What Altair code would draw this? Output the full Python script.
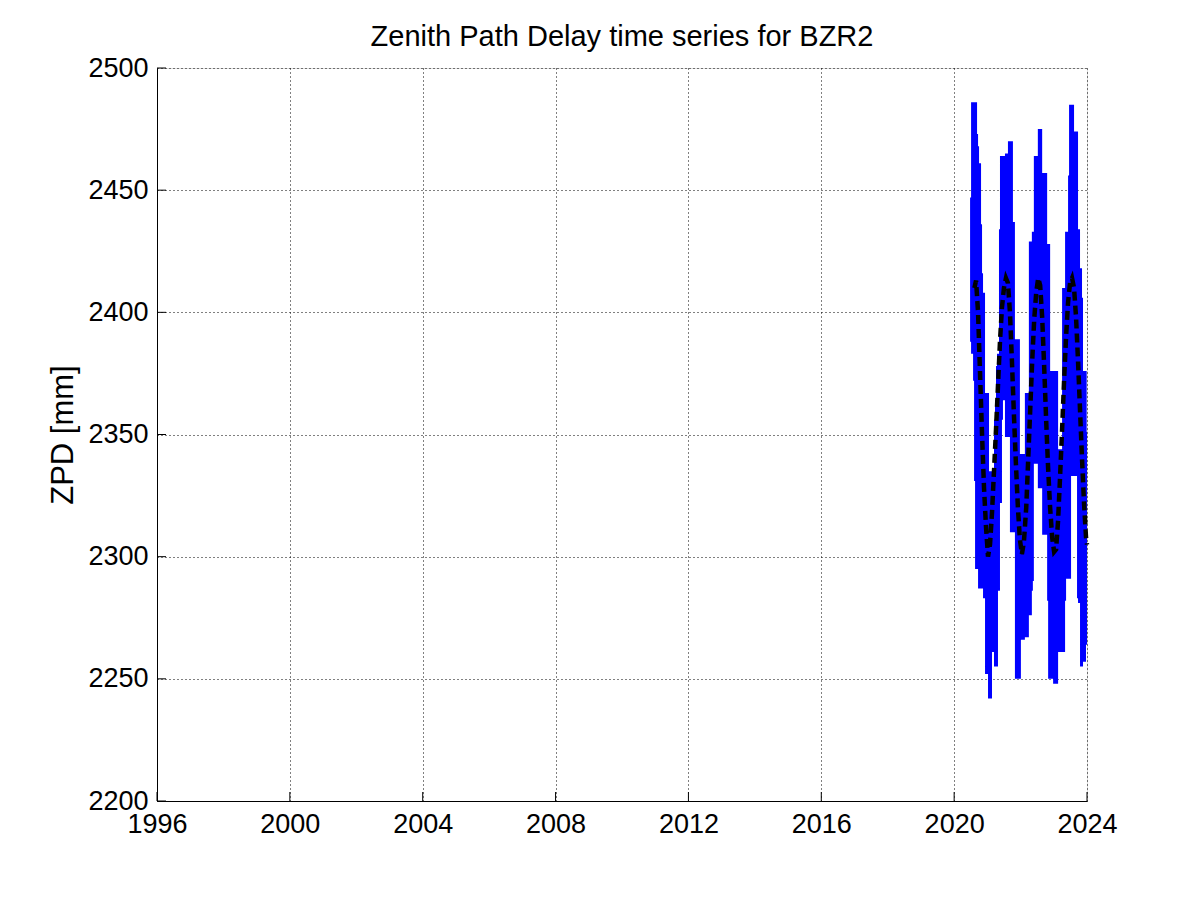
import altair as alt
import pandas as pd

# ---- Blue: daily ZPD spread (upper / lower envelope) ----
env_year = [2020.48, 2020.51, 2020.57, 2020.60, 2020.63, 2020.69, 2020.72, 2020.75, 2020.81, 2020.84,
            2020.87, 2020.93, 2021.02, 2021.05, 2021.14, 2021.20, 2021.23, 2021.26, 2021.29, 2021.32,
            2021.35, 2021.38, 2021.44, 2021.47, 2021.53, 2021.62, 2021.68, 2021.77, 2021.83, 2021.98,
            2022.01, 2022.13, 2022.25, 2022.34, 2022.37, 2022.40, 2022.52, 2022.65, 2022.80, 2022.83,
            2022.89, 2022.98, 2023.13, 2023.25, 2023.34, 2023.37, 2023.43, 2023.46, 2023.52, 2023.61,
            2023.70, 2023.73, 2023.79, 2023.85, 2023.88, 2023.97, 2023.99, 2024.00]
env_top = [2447, 2486, 2486, 2486, 2486, 2473, 2468, 2461, 2436, 2416,
           2408, 2367, 2367, 2335, 2335, 2356, 2364, 2378, 2383, 2383,
           2434, 2464, 2464, 2464, 2465, 2470, 2470, 2437, 2389, 2342,
           2342, 2367, 2429, 2433, 2433, 2464, 2475, 2457, 2428, 2428,
           2376, 2376, 2344, 2410, 2433, 2433, 2456, 2485, 2485, 2474,
           2474, 2434, 2418, 2406, 2376, 2376, 2351, 2351]
env_bot = [2388, 2383, 2372, 2331, 2295, 2295, 2287, 2287, 2287, 2287,
           2283, 2252, 2242, 2242, 2261, 2255, 2255, 2255, 2255, 2286,
           2286, 2322, 2356, 2364, 2349, 2349, 2310, 2310, 2250, 2250,
           2266, 2267, 2276, 2286, 2290, 2338, 2328, 2309, 2282, 2250,
           2250, 2248, 2261, 2261, 2282, 2291, 2291, 2291, 2333, 2333,
           2283, 2281, 2255, 2255, 2257, 2264, 2264, 2264]

# ---- Black dashed: smoothed ZPD ----
smooth_year = [2020.61, 2020.66, 2020.72, 2020.78, 2020.84, 2020.90, 2020.96, 2021.02, 2021.08, 2021.14,
               2021.20, 2021.26, 2021.32, 2021.38, 2021.44, 2021.50, 2021.56, 2021.62, 2021.68, 2021.74,
               2021.80, 2021.86, 2021.92, 2021.98, 2022.04, 2022.10, 2022.17, 2022.23, 2022.29, 2022.35,
               2022.41, 2022.47, 2022.53, 2022.59, 2022.65, 2022.71, 2022.77, 2022.83, 2022.89, 2022.95,
               2023.01, 2023.07, 2023.13, 2023.19, 2023.25, 2023.31, 2023.37, 2023.43, 2023.49, 2023.55,
               2023.61, 2023.67, 2023.73, 2023.79, 2023.85, 2023.91, 2023.97, 2024.00]
smooth_zpd = [2410, 2413, 2400, 2375, 2350, 2328, 2312, 2300, 2305, 2318,
              2335, 2352, 2370, 2388, 2402, 2410, 2414, 2412, 2400, 2380,
              2358, 2338, 2320, 2307, 2301, 2306, 2320, 2340, 2360, 2380,
              2397, 2408, 2414, 2411, 2398, 2378, 2356, 2336, 2320, 2308,
              2302, 2303, 2315, 2333, 2352, 2372, 2390, 2404, 2412, 2414,
              2410, 2398, 2380, 2360, 2340, 2322, 2308, 2305]

x_ticks = [1996, 2000, 2004, 2008, 2012, 2016, 2020, 2024]
y_ticks = [2200, 2250, 2300, 2350, 2400, 2450, 2500]

FONT = "Liberation Sans"

env_df = pd.DataFrame({"year": env_year, "top": env_top, "bot": env_bot})
smooth_df = pd.DataFrame({"year": smooth_year, "zpd": smooth_zpd})
xt_df = pd.DataFrame({"year": x_ticks})
yt_df = pd.DataFrame({"zpd": y_ticks})

xscale = alt.Scale(domain=[1996, 2024], nice=False, zero=False)
yscale = alt.Scale(domain=[2200, 2500], nice=False, zero=False)

xaxis = alt.Axis(values=x_ticks, format="d", title=None, grid=True, gridDash=[1, 3],
                 gridColor="black", gridOpacity=1, gridWidth=1, ticks=False,
                 domain=True, domainColor="black", domainWidth=1,
                 labelFont=FONT, labelFontSize=27, labelColor="black", labelPadding=10,
                 labelFlush=False, labelOverlap=False)
yaxis = alt.Axis(values=y_ticks, format="d", title="ZPD [mm]", grid=True, gridDash=[1, 3],
                 gridColor="black", gridOpacity=1, gridWidth=1, ticks=False,
                 domain=True, domainColor="black", domainWidth=1,
                 labelFont=FONT, labelFontSize=27, labelColor="black", labelPadding=9,
                 labelFlush=False, labelOverlap=False,
                 titleFont=FONT, titleFontSize=31, titleFontWeight="normal",
                 titleColor="black", titlePadding=8)

area = alt.Chart(env_df).mark_area(interpolate="step-after", color="#0000ff", opacity=1).encode(
    x=alt.X("year:Q", scale=xscale, axis=xaxis),
    y=alt.Y("top:Q", scale=yscale, axis=yaxis),
    y2="bot:Q",
)

line = alt.Chart(smooth_df).mark_line(color="black", strokeWidth=4.5, strokeDash=[9, 5]).encode(
    x=alt.X("year:Q", scale=xscale),
    y=alt.Y("zpd:Q", scale=yscale),
)

xticks = alt.Chart(xt_df).mark_rule(color="black", strokeWidth=1).encode(
    x=alt.X("year:Q", scale=xscale),
    y=alt.value(733), y2=alt.value(724),
)
yticks = alt.Chart(yt_df).mark_rule(color="black", strokeWidth=1).encode(
    y=alt.Y("zpd:Q", scale=yscale),
    x=alt.value(0), x2=alt.value(9),
)

chart = alt.layer(area, line, xticks, yticks).properties(
    width=930, height=733,
    autosize=alt.AutoSizeParams(type="none"),
    padding={"left": 149, "top": 60, "right": 100, "bottom": 100},
    title=alt.TitleParams("Zenith Path Delay time series for BZR2", font=FONT, fontSize=29,
                          fontWeight="normal", color="black", anchor="middle", offset=2),
).configure_view(stroke=None).configure(background="white")

chart.save("out.html", embed_options={"renderer": "svg", "actions": False})
